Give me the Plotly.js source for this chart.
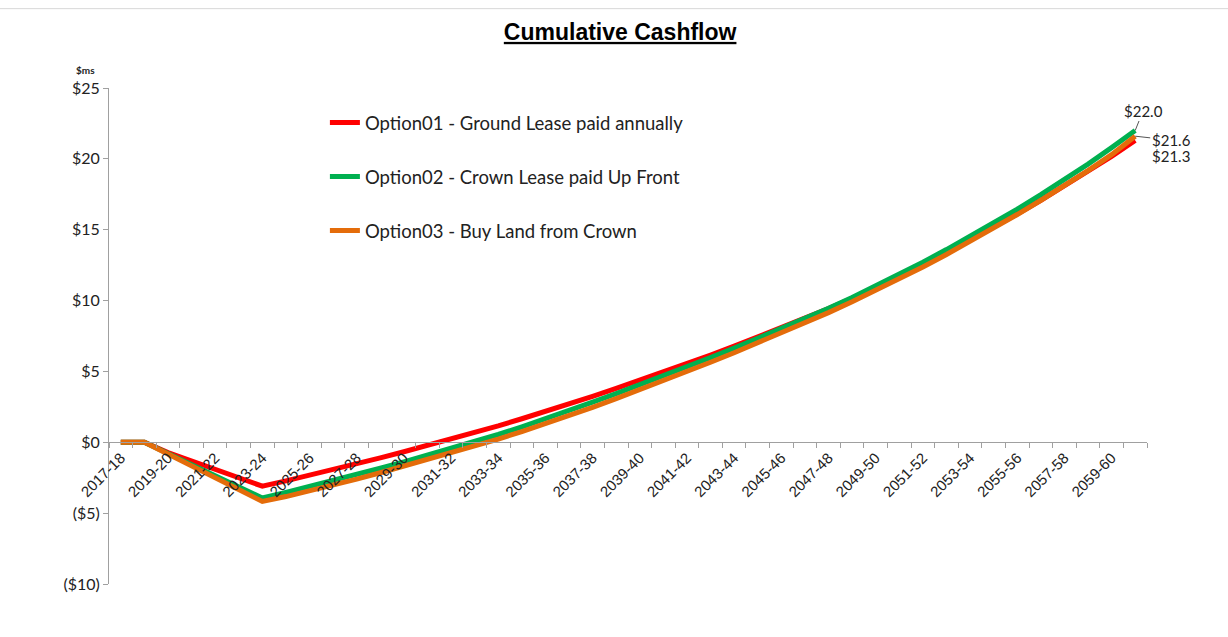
<!DOCTYPE html>
<html>
<head>
<meta charset="utf-8">
<script src="https://cdn.plot.ly/plotly-3.0.1.min.js"></script>
<style>
html,body{margin:0;padding:0;background:#fff;}
#chart{width:1228px;height:637px;}
</style>
</head>
<body>
<div id="chart"></div>
<script>
// Financial years (categories)
const years = ["2017-18","2018-19","2019-20","2020-21","2021-22","2022-23","2023-24","2024-25","2025-26","2026-27",
  "2027-28","2028-29","2029-30","2030-31","2031-32","2032-33","2033-34","2034-35","2035-36","2036-37",
  "2037-38","2038-39","2039-40","2040-41","2041-42","2042-43","2043-44","2044-45","2045-46","2046-47",
  "2047-48","2048-49","2049-50","2050-51","2051-52","2052-53","2053-54","2054-55","2055-56","2056-57",
  "2057-58","2058-59","2059-60","2060-61"];

// Cumulative cashflow, $ millions
const option01 = [0,0,-0.72,-1.32,-1.92,-2.51,-3.10,-2.72,-2.33,-1.93,-1.52,-1.10,-0.67,-0.23,0.22,0.68,1.16,
  1.66,2.17,2.70,3.24,3.80,4.37,4.95,5.55,6.16,6.78,7.42,8.07,8.73,9.43,10.16,10.92,11.71,12.53,13.38,14.26,
  15.17,16.11,17.08,18.08,19.11,20.18,21.30];
const option02 = [0,0,-0.79,-1.58,-2.36,-3.15,-3.93,-3.53,-3.12,-2.70,-2.27,-1.83,-1.38,-0.92,-0.45,0.03,0.55,
  1.09,1.65,2.23,2.83,3.44,4.06,4.69,5.33,5.98,6.64,7.32,8.01,8.72,9.45,10.22,11.02,11.85,12.71,13.60,14.52,
  15.47,16.45,17.47,18.53,19.63,20.79,22.00];
const option03 = [0,0,-0.82,-1.66,-2.50,-3.33,-4.17,-3.83,-3.44,-3.03,-2.60,-2.15,-1.69,-1.22,-0.75,-0.27,0.23,
  0.76,1.31,1.88,2.47,3.08,3.70,4.34,4.99,5.65,6.32,7.01,7.71,8.42,9.15,9.91,10.70,11.52,12.37,13.25,14.16,
  15.10,16.07,17.07,18.10,19.17,20.30,21.60];

const seriesNames = ["Option01 - Ground Lease paid annually","Option02 - Crown Lease paid Up Front","Option03 - Buy Land from Crown"];
const seriesColors = ["#FF0000","#00B050","#E46C0A"];
const yTickVals = [-10,-5,0,5,10,15,20,25];
const yTickText = ["($10)","($5)","$0","$5","$10","$15","$20","$25"];
const xTickText = years.map((y,i)=> i%2===0 ? y : "");

const allSeries = [option01, option02, option03];
const traces = allSeries.map((vals,k)=>({
  type:"scatter", mode:"lines", x:years, y:vals, name:seriesNames[k],
  legendgroup:"g"+k,
  line:{color:seriesColors[k], width:5}
}));

const fmt = v => "$" + v.toFixed(1);
const last = years.length-1;
const lblFont = {family:"Lato, Open Sans", size:15, color:"#222"};

const layout = {
  width:1228, height:637,
  paper_bgcolor:"#fff", plot_bgcolor:"#fff",
  margin:{l:109,r:81,t:88,b:53},
  title:{text:"<b><u>Cumulative Cashflow</u></b>", x:0.505, xanchor:"center", y:0.95, yanchor:"middle",
    font:{family:"Liberation Sans, Arial", size:23, color:"#000"}},
  showlegend:true,
  legend:{x:0.208, y:0.968, xanchor:"left", yanchor:"top", bgcolor:"rgba(0,0,0,0)",
    font:{family:"Lato, Open Sans", size:18.5, color:"#222"}, tracegroupgap:27, itemwidth:30},
  xaxis:{type:"category", range:[-0.5, years.length-0.5], anchor:"free", position:(0-(-10))/35,
    tickmode:"array", tickvals:years, ticktext:xTickText, tickson:"boundaries",
    ticks:"outside", ticklen:5, tickcolor:"#A0A0A0", tickangle:-45,
    showline:true, linecolor:"#A0A0A0", linewidth:1, showgrid:false, zeroline:false,
    tickfont:{family:"Liberation Sans, Arial", size:15, color:"#222"}, automargin:false, fixedrange:true},
  yaxis:{range:[-10,25], tickmode:"array", tickvals:yTickVals, ticktext:yTickText,
    ticks:"outside", ticklen:5, tickcolor:"#A0A0A0", showline:true, linecolor:"#A0A0A0", linewidth:1,
    showgrid:false, zeroline:false, tickfont:{family:"Lato, Open Sans", size:16, color:"#222"},
    automargin:false, fixedrange:true},
  annotations:[
    {xref:"paper", yref:"paper", x:-0.034, y:1.02, xanchor:"left", yanchor:"bottom", showarrow:false,
     text:"<b>$ms</b>", font:{family:"Lato, Open Sans", size:10, color:"#222"}},
    {x:years[last], y:option02[last], text:fmt(option02[last]), showarrow:true, arrowhead:0, arrowwidth:1,
     arrowcolor:"#555", ax:8, ay:-20, font:lblFont},
    {x:years[last], y:option03[last], text:fmt(option03[last]), showarrow:true, arrowhead:0, arrowwidth:1,
     arrowcolor:"#555", ax:36, ay:4, font:lblFont},
    {x:years[last], y:option01[last], text:fmt(option01[last]), showarrow:false, xshift:36, yshift:-16,
     font:lblFont}
  ],
  shapes:[
    {type:"line", xref:"paper", yref:"paper", x0:-0.11, x1:1.08, y0:1.16, y1:1.16, line:{color:"#D9D9D9", width:1}}
  ]
};

Plotly.newPlot("chart", traces, layout, {displayModeBar:false, staticPlot:true});
</script>
</body>
</html>
